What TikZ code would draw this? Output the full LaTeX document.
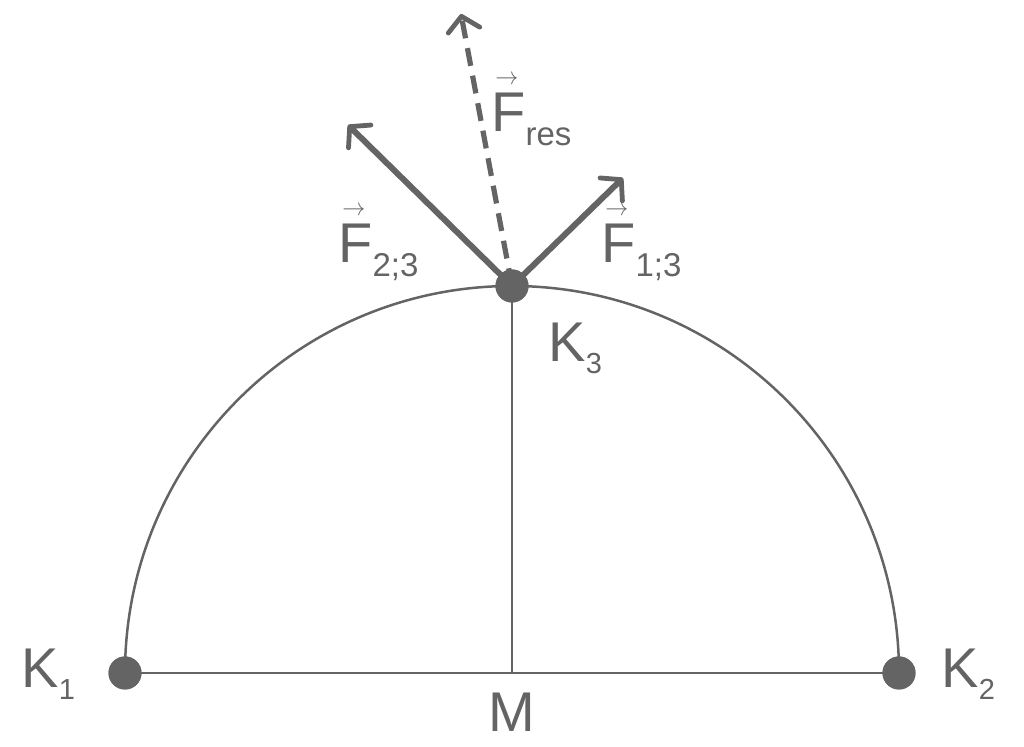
\documentclass[tikz,border=0pt]{standalone}
\usepackage{fontspec}
\setmainfont{Liberation Sans}
\usetikzlibrary{arrows.meta}
\definecolor{ink}{RGB}{100,100,100}
\newcommand\myvecF{\rlap{\kern2pt\raisebox{23.5pt}{\resizebox{11.5pt}{4.5pt}{$\rightarrow$}}}F}
\newcommand\ksub[1]{\raisebox{-6pt}{\fontsize{14.5}{14.5}\selectfont #1}}
\newcommand\fsub[1]{\raisebox{-7pt}{\fontsize{16.5}{16.5}\selectfont #1}}
\begin{document}
\begin{tikzpicture}[x=0.5pt,y=0.5pt,
  thinline/.style={draw=ink,line width=1.25pt},
  force/.style={draw=ink,line width=3pt,-{Straight Barb[length=7pt,width=16pt,line width=2.4pt,round]}},
  dot/.style={circle,fill=ink,inner sep=0pt,minimum size=16.5pt},
  lbl/.style={text=ink,inner sep=0pt,font=\fontsize{28}{28}\selectfont}]
\useasboundingbox (0,0) rectangle (1024,747);
\node[dot] (K1) at (125,74) {};
\node[dot] (K2) at (899,74) {};
\node[dot] (K3) at (512,461) {};
\coordinate (M) at (512,74);
\coordinate (T23) at (348,622);
\coordinate (T13) at (623,569);
\coordinate (Tres) at (461,733);
% geometry
\draw[thinline] (K1.center) arc[start angle=180,end angle=0,radius=387];
\draw[thinline] (K1.center) -- (K2.center);
\draw[thinline] (K3.center) -- (M);
% forces
\draw[force,dash pattern=on 9pt off 5pt,line width=2.6pt] (K3.center) -- (Tres);
\draw[force] (K3.center) -- (T23);
\draw[force] (K3.center) -- (T13);
\node[dot] at (K3) {};
\node[dot] at (K1) {};
\node[dot] at (K2) {};
% labels
\node[lbl,anchor=base west] (lK1) at (21,59) {K\ksub{1}};
\node[lbl,anchor=base west] (lK2) at (941,59) {K\ksub{2}};
\node[lbl,anchor=base west] (lK3) at (548,385) {K\ksub{3}};
\node[lbl,anchor=base] (lM) at (512,15) {M};
\node[lbl,anchor=base west] (lF23) at (338,484) {\myvecF\fsub{2;3}};
\node[lbl,anchor=base west] (lF13) at (601,484) {\myvecF\fsub{1;3}};
\node[lbl,anchor=base west] (lFres) at (491,615) {\myvecF\fsub{res}};
\end{tikzpicture}
\end{document}
